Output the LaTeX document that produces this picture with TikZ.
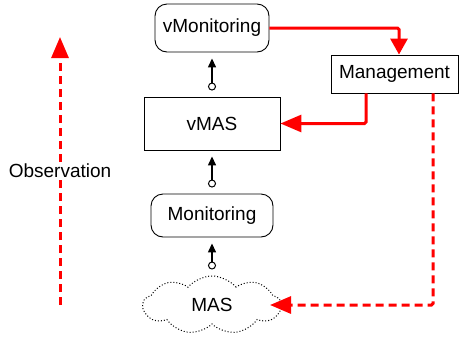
\documentclass[tikz,border=0pt]{standalone}
\usepackage{fontspec}
\setmainfont{Liberation Sans}
\usetikzlibrary{arrows.meta,shapes.symbols}
\begin{document}
\begin{tikzpicture}[x=1pt,y=-1pt,
  every node/.style={font=\fontsize{19}{22}\selectfont, inner sep=0pt},
  rbox/.style={draw, line width=0.9pt, rounded corners=12pt},
  sbox/.style={draw, line width=0.9pt},
  redarrow/.style={draw=red, line width=3pt, rounded corners=1.5pt,
    -{Triangle[length=21pt,width=17pt]}},
  reddash/.style={redarrow, dash pattern=on 8pt off 5pt},
  link/.style={draw=black, line width=1.4pt,
    {Circle[open,length=8pt,width=8pt,line width=1pt]}-{Triangle[length=9pt,width=8pt]},
    shorten <=6pt, shorten >=6pt}]
\useasboundingbox (0,0) rectangle (460,338);
\node[rbox, minimum width=114pt, minimum height=48pt] (vmon) at (212,28) {vMonitoring};
\node[sbox, minimum width=127pt, minimum height=38pt, fill=white] (mgmt) at (394.5,74) {Management};
\node[sbox, minimum width=136pt, minimum height=53pt] (vmas) at (212,123.5) {vMAS};
\node[rbox, minimum width=122pt, minimum height=43pt] (mon) at (212,215.5) {Monitoring};
\node[cloud, draw, dotted, line width=1pt, cloud puffs=9, cloud puff arc=100, aspect=2.6,
      minimum width=138pt, minimum height=58pt] (mas) at (212,305) {MAS};
\coordinate (masR) at ([xshift=58pt]mas.center);
\draw[link] (vmas.north) -- (vmon.south);
\draw[link] (mon.north) -- (vmas.south);
\draw[link] (mas.north) -- (mon.south);
\draw[redarrow, -{Triangle[length=16pt,width=17pt]}] (vmon.east) -| ([xshift=4.5pt]mgmt.north);
\draw[redarrow] ([xshift=-28.5pt]mgmt.south) |- (vmas.east);
\draw[reddash] ([xshift=38.5pt]mgmt.south) |- (masR);
\coordinate (obsS) at (60,305);
\coordinate (obsE) at (60,37);
\draw[reddash] (obsS) -- (obsE) node[midway, fill=white, inner sep=2pt] (obs) {Observation};
\end{tikzpicture}
\end{document}
